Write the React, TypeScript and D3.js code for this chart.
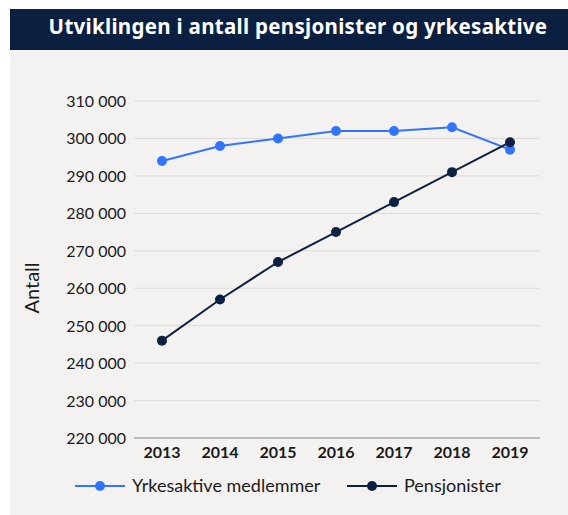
import React from "react";
import * as d3 from "d3";

const years = [2013, 2014, 2015, 2016, 2017, 2018, 2019];
const yrkesaktive = [294000, 298000, 300000, 302000, 302000, 303000, 297000];
const pensjonister = [246000, 257000, 267000, 275000, 283000, 291000, 299000];
const yTicks = [220000, 230000, 240000, 250000, 260000, 270000, 280000, 290000, 300000, 310000];
const seriesNames = ["Yrkesaktive medlemmer", "Pensjonister"];
const title = "Utviklingen i antall pensjonister og yrkesaktive";

const BLUE = "#3174ff";
const NAVY = "#0c2141";
const FONT = "Lato, sans-serif";

export default function App() {
  const W = 568, H = 515;
  const x = d3.scalePoint<number>().domain(years).range([162, 510]);
  const y = d3.scaleLinear().domain([220000, 310000]).range([438, 101]);
  const fmt = (v: number) => d3.format(",")(v).replace(/,/g, " ");
  const line = d3.line<number>().x((_, i) => x(years[i])!).y((d) => y(d));
  const series = [
    { name: seriesNames[0], values: yrkesaktive, color: BLUE },
    { name: seriesNames[1], values: pensjonister, color: NAVY },
  ];
  return (
    <svg width={W} height={H} style={{ position: "absolute", left: 0, top: 0 }} fontFamily={FONT}>
      <rect x={10} y={50} width={W - 10} height={H - 50} fill="#f3f2f1" />
      <rect x={10} y={9} width={W - 10} height={41} fill="#0b1f40" />
      <text x={298} y={34} textAnchor="middle" fill="#fff" fontSize={20.5} fontWeight="bold"
        fontFamily="'Noto Sans', sans-serif" letterSpacing={0.3}>{title}</text>
      {yTicks.map((t) => (
        <g key={t}>
          {t !== 220000 && <line x1={134} x2={540} y1={y(t)} y2={y(t)} stroke="#dcdbda" strokeWidth={1} />}
          <text x={126} y={y(t) + 6} textAnchor="end" fontSize={16} fill="#1a1a1a">{fmt(t)}</text>
        </g>
      ))}
      <line x1={134} x2={540} y1={y(220000)} y2={y(220000)} stroke="#a9a9a9" strokeWidth={1.5} />
      {years.map((yr) => (
        <text key={yr} x={x(yr)} y={458} textAnchor="middle" fontSize={16} fontWeight="bold" fill="#1a1a1a">{yr}</text>
      ))}
      <text transform={`translate(39,288) rotate(-90)`} textAnchor="middle" fontSize={20} fill="#1a1a1a">Antall</text>
      {series.map((s) => (
        <g key={s.name}>
          <path d={line(s.values)!} fill="none" stroke={s.color} strokeWidth={2} />
          {s.values.map((v, i) => (
            <circle key={i} cx={x(years[i])} cy={y(v)} r={5} fill={s.color} />
          ))}
        </g>
      ))}
      {series.map((s, i) => {
        const lx = i === 0 ? 75 : 347;
        return (
          <g key={s.name}>
            <line x1={lx} x2={lx + 50} y1={486} y2={486} stroke={s.color} strokeWidth={2} />
            <circle cx={lx + 25} cy={486} r={5} fill={s.color} />
            <text x={lx + 57} y={492} fontSize={18} fill="#1a1a1a">{s.name}</text>
          </g>
        );
      })}
    </svg>
  );
}
